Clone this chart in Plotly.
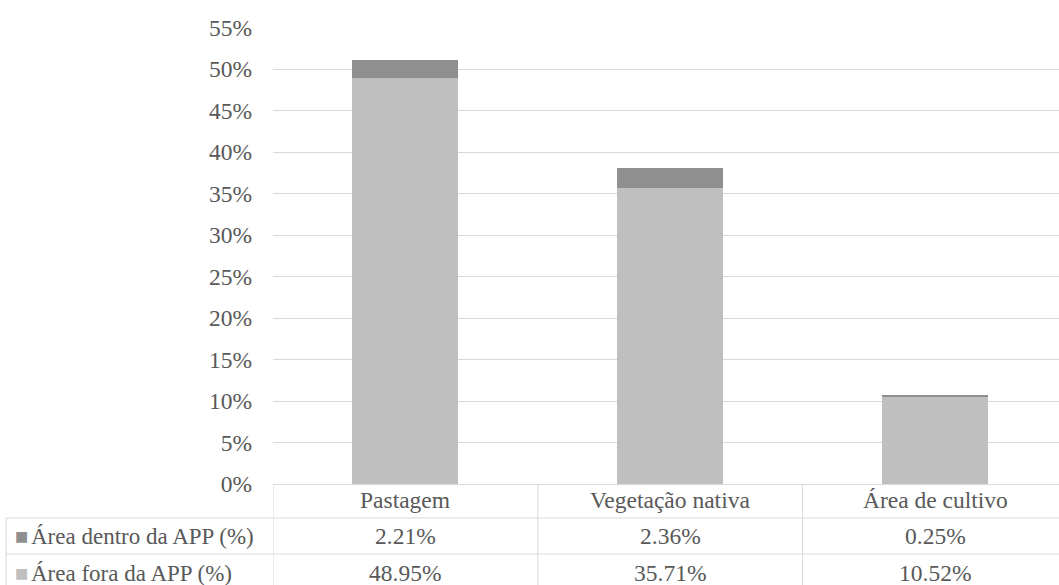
import plotly.graph_objects as go

# Land-use categories and the share of area inside / outside the APP (%)
categories = ["Pastagem", "Vegetação nativa", "Área de cultivo"]
dentro_app = [2.21, 2.36, 0.25]
fora_app = [48.95, 35.71, 10.52]
series_names = ["Área dentro da APP (%)", "Área fora da APP (%)"]
tick_values = [0, 5, 10, 15, 20, 25, 30, 35, 40, 45, 50, 55]
tick_labels = [f"{v}%" for v in tick_values]

W, H = 1059, 585
FONT = "Liberation Serif"
TEXT = "#595959"
GRID = "#d9d9d9"
COL_DENTRO = "#8f8f8f"
COL_FORA = "#bfbfbf"
FS = 23.5
FS_ROW = 23


def py(pixel_y):
    """Convert a pixel row (from the top) into paper y."""
    return (H - pixel_y) / H


def px(pixel_x):
    return pixel_x / W


fig = go.Figure()
fig.add_trace(go.Bar(
    x=categories, y=[v / 100 for v in fora_app], name=series_names[1],
    marker=dict(color=COL_FORA, line=dict(width=0)), width=0.4,
))
fig.add_trace(go.Bar(
    x=categories, y=[v / 100 for v in dentro_app], name=series_names[0],
    marker=dict(color=COL_DENTRO, line=dict(width=0)), width=0.4,
))

plot_left = 273
cat_px = 264.8
x_max = -0.5 + (W - plot_left) / cat_px

fig.update_layout(
    width=W, height=H,
    autosize=False,
    barmode="stack",
    showlegend=False,
    paper_bgcolor="white", plot_bgcolor="white",
    margin=dict(l=0, r=0, t=0, b=0, pad=0, autoexpand=False),
    font=dict(family=FONT, color=TEXT, size=FS),
    xaxis=dict(
        domain=[px(plot_left), 1], range=[-0.5, x_max],
        showticklabels=False, showgrid=False, zeroline=False,
        showline=False, ticks="", automargin=False,
    ),
    yaxis=dict(
        domain=[py(484), py(27.7)], range=[0, 0.55],
        tickvals=[v / 100 for v in tick_values], ticktext=tick_labels,
        showgrid=True, gridcolor=GRID, gridwidth=1,
        zeroline=True, zerolinecolor=GRID, zerolinewidth=1,
        showline=False, ticks="", ticklabelstandoff=20, automargin=False,
        tickfont=dict(family=FONT, size=FS, color=TEXT),
    ),
)

# Data table underneath the bars
shapes = []
line = dict(color=GRID, width=1)
row_tops = [518, 554]
for y in row_tops:
    shapes.append(dict(type="line", xref="paper", yref="paper",
                       x0=px(6), x1=1, y0=py(y), y1=py(y), line=line))
# left border of the series-name column
shapes.append(dict(type="line", xref="paper", yref="paper",
                   x0=px(6), x1=px(6), y0=py(518), y1=0, line=line))
# column separators, placed on the category axis
for xb in [-0.5, 0.5, 1.5]:
    shapes.append(dict(type="line", xref="x", yref="paper",
                       x0=xb, x1=xb, y0=py(484), y1=0, line=line))
fig.update_layout(shapes=shapes)

annotations = []
header_y = py(500)
row_y = [py(536), py(573)]
for cat in categories:
    annotations.append(dict(x=cat, y=header_y, xref="x", yref="paper",
                            text=cat, showarrow=False, yanchor="middle",
                            font=dict(family=FONT, size=FS, color=TEXT)))

rows = [(series_names[0], dentro_app, COL_DENTRO),
        (series_names[1], fora_app, COL_FORA)]
for (name, values, color), yr in zip(rows, row_y):
    annotations.append(dict(x=px(13), y=yr, xref="paper", yref="paper",
                            text="■", showarrow=False, xanchor="left",
                            yanchor="middle",
                            font=dict(family="DejaVu Sans", size=14, color=color)))
    annotations.append(dict(x=px(29), y=yr, xref="paper", yref="paper",
                            text=name, showarrow=False, xanchor="left",
                            yanchor="middle",
                            font=dict(family=FONT, size=FS_ROW, color=TEXT)))
    for cat, v in zip(categories, values):
        annotations.append(dict(x=cat, y=yr, xref="x", yref="paper",
                                text=f"{v:.2f}%", showarrow=False,
                                yanchor="middle",
                                font=dict(family=FONT, size=FS, color=TEXT)))
fig.update_layout(annotations=annotations)

fig.write_html("out.html")
